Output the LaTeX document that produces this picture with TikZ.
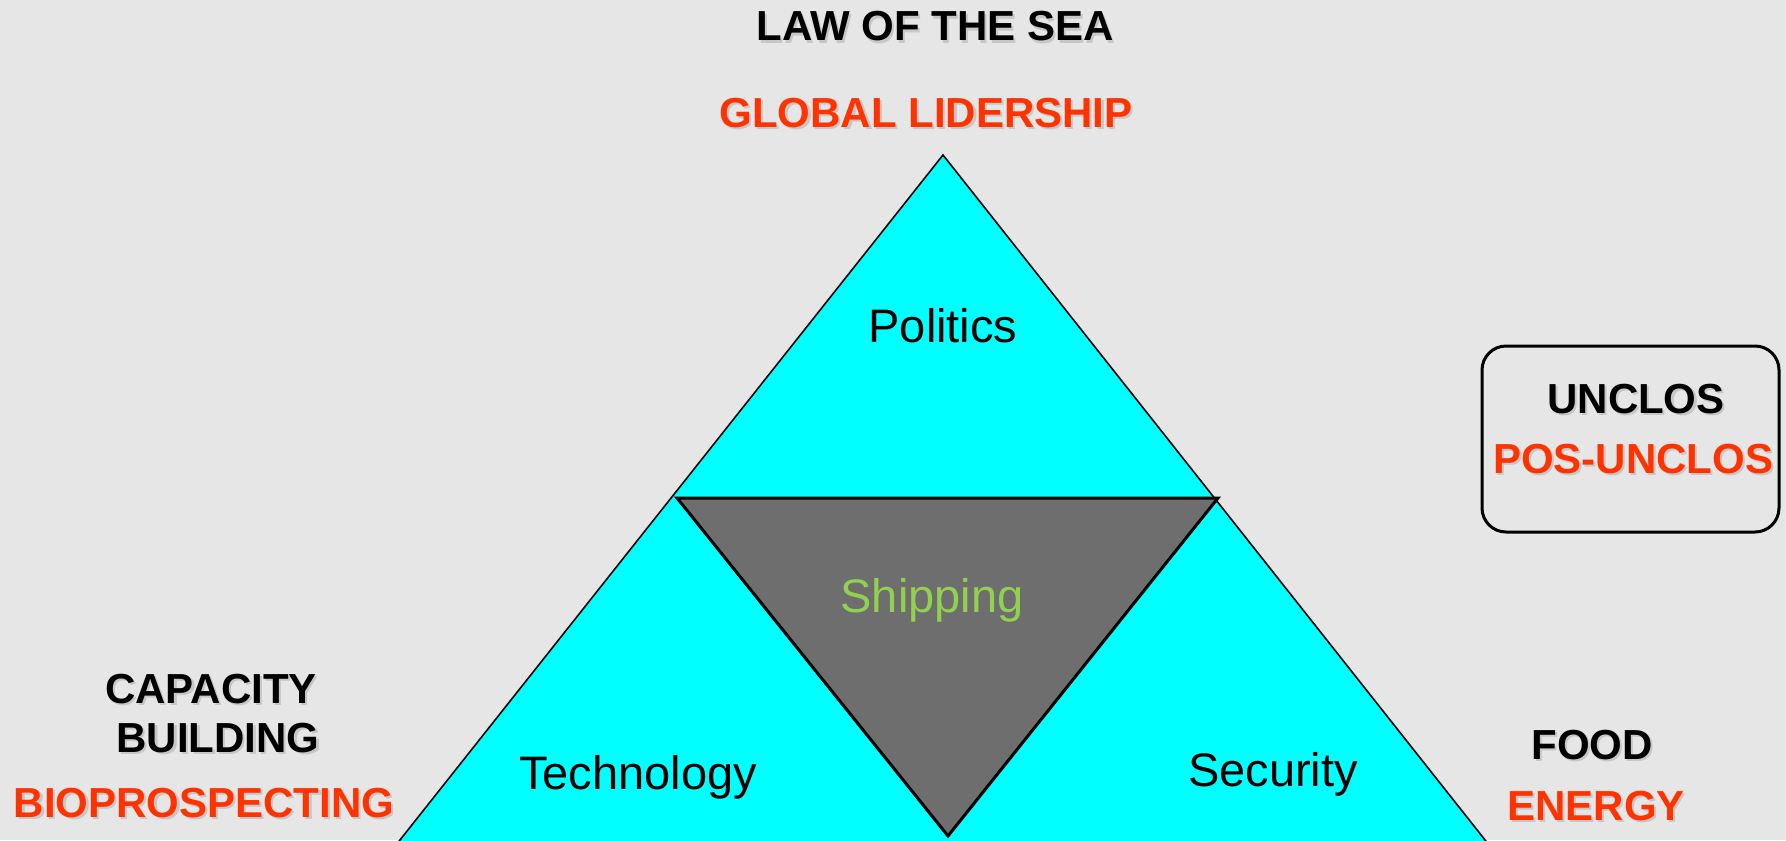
\documentclass[tikz,border=0pt]{standalone}
\usepackage{fontspec}
\setmainfont{Liberation Sans}
\definecolor{bgc}{HTML}{E6E6E6}
\definecolor{cyanfill}{HTML}{00FFFF}
\definecolor{shipgray}{HTML}{6E6E6E}
\definecolor{shipgreen}{HTML}{92D050}
\definecolor{orangered}{HTML}{FF3300}
\newcommand\shtxt[1]{\makebox[0pt][l]{\hspace{1.1pt}\raisebox{-1.1pt}{\textcolor{black!22}{#1}}}#1}
\begin{document}
\begin{tikzpicture}[x=0.5pt,y=-0.5pt,
  boldlab/.style={font=\bfseries\fontsize{21}{25}\selectfont,anchor=base,inner sep=0pt},
  blacklab/.style={boldlab,text=black},
  redlab/.style={boldlab,text=orangered},
  seglab/.style={font=\fontsize{23.5}{28}\selectfont,anchor=base,inner sep=0pt}]
\fill[bgc] (0,0) rectangle (1786,840);
\useasboundingbox (0,0) rectangle (1786,840);
% outer triangle
\coordinate (apex) at (943,155);
\coordinate (bl) at (396,845);
\coordinate (br) at (1489,845);
\draw[fill=cyanfill,line width=0.8pt] (apex) -- (br) -- (bl) -- cycle;
% inner triangle
\coordinate (il) at (677,498);
\coordinate (ir) at (1218,498);
\coordinate (ib) at (948,836);
\draw[fill=shipgray,line width=1.5pt,line join=miter] (il) -- (ir) -- (ib) -- cycle;
% segment labels
\node[seglab] (pol) at (943,342) {Politics};
\node[seglab,text=shipgreen] (ship) at (932,612) {Shipping};
\node[seglab] (tech) at (638,789) {Technology};
\node[seglab] (sec) at (1273,786) {Security};
% top labels
\node[blacklab] (law) at (935,41) {\shtxt{LAW OF THE SEA}};
\node[redlab] (glob) at (926,127) {\shtxt{GLOBAL LIDERSHIP}};
% unclos box
\draw[line width=1.5pt,rounded corners=12pt] (1482,346) rectangle (1779,532);
\node[blacklab] (unc) at (1636,413) {\shtxt{UNCLOS}};
\node[redlab] (posunc) at (1633,473) {\shtxt{POS-UNCLOS}};
% left labels
\node[blacklab] (cap) at (211,703) {\shtxt{CAPACITY}};
\node[blacklab] (bld) at (218,752) {\shtxt{BUILDING}};
\node[redlab] (bio) at (204,817) {\shtxt{BIOPROSPECTING}};
% right labels
\node[blacklab] (food) at (1592,759) {\shtxt{FOOD}};
\node[redlab] (ener) at (1596,820) {\shtxt{ENERGY}};
\end{tikzpicture}
\end{document}
